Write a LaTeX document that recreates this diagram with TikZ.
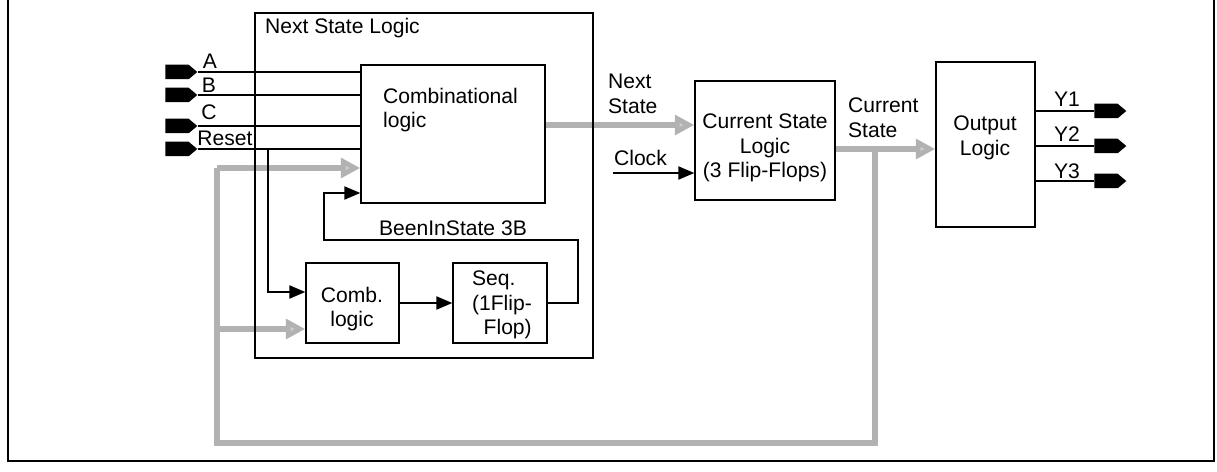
\documentclass[tikz,border=0pt]{standalone}
\usepackage{fontspec}
\setmainfont{Liberation Sans}
\usetikzlibrary{arrows.meta, shapes.symbols, backgrounds}
\tikzset{
  blk/.style={draw, line width=0.9pt, inner sep=0pt},
  wire/.style={line width=0.8pt},
  arr/.style={wire, -{Triangle[length=9pt,width=7.5pt]}},
  gwire/.style={draw=black!30, line width=3pt},
  garr/.style={gwire, -{Triangle[length=11pt,width=11pt,fill=black!20]}},
  pad/.style={signal, signal to=east, signal pointer angle=80, fill=black, minimum width=0.64cm, minimum height=0.29cm, inner sep=0pt},
  lbl/.style={inner sep=1pt, font=\fontsize{12}{14}\selectfont}
}

\begin{document}
\begin{tikzpicture}[x=0.02cm, y=-0.02cm]
\useasboundingbox (0,0) rectangle (1217,472);
% outer frame
\draw[line width=1pt] (8,0) -- (8,461) -- (1214,461) -- (1214,0);

% blocks
\node[blk, minimum width=6.76cm, minimum height=6.9cm] (nsl) at (424,185.5) {};
\node[blk, minimum width=3.68cm, minimum height=2.76cm] (comb) at (453,134) {};
\node[blk, minimum width=1.86cm, minimum height=1.6cm] (cmb) at (352.5,303) {};
\node[blk, minimum width=1.88cm, minimum height=1.6cm] (seq) at (500,303) {};
\node[blk, minimum width=2.8cm, minimum height=2.38cm] (csl) at (765,140.5) {};
\node[blk, minimum width=1.98cm, minimum height=3.3cm] (outl) at (985.5,144.5) {};

% texts
\node[lbl, anchor=west] (tNSL) at (263,28) {Next State Logic};
\node[lbl, anchor=west, align=left] (tComb) at (381,110) {Combinational\\logic};
\node[lbl, align=center] (tCmb) at (352,309) {Comb.\\logic};
\node[lbl, anchor=west, align=left] (tSeq) at (470,305) {Seq.\\(1Flip-\\\hspace{0.55em}Flop)};
\node[lbl] (tBeen) at (453,228) {BeenInState 3B};
\node[lbl, anchor=west, align=left] (tNext) at (606,94) {Next\\State};
\node[lbl, anchor=west] (tClk) at (612,158) {Clock};
\node[lbl, align=center] (tCsl) at (765,148) {Current State\\Logic\\(3 Flip-Flops)};
\node[lbl, anchor=west, align=left] (tCur) at (846,118) {Current\\State};
\node[lbl, align=center] (tOut) at (985,138) {Output\\Logic};
\node[lbl] (tA) at (210,61) {A};
\node[lbl] (tB) at (209,85) {B};
\node[lbl] (tC) at (209,112) {C};
\node[lbl] (tR) at (225,138) {Reset};
\node[lbl] (tY1) at (1067,99) {Y1};
\node[lbl] (tY2) at (1067,134) {Y2};
\node[lbl] (tY3) at (1067,171) {Y3};

% pads
\node[pad] (pA) at (177,72) {};
\node[pad] (pB) at (177,95) {};
\node[pad] (pC) at (177,126) {};
\node[pad] (pR) at (177,149) {};
\node[pad] (oY1) at (1106,111) {};
\node[pad] (oY2) at (1106,146) {};
\node[pad] (oY3) at (1106,181) {};

% helper points
\coordinate (jR) at (268,149);
\coordinate (yR) at (0,292);
\coordinate (yL) at (0,193);
\coordinate (lp1) at (578,240);
\coordinate (lp2) at (324,240);
\coordinate (clk) at (613,173);
\coordinate (nsY) at (0,125);
\coordinate (gTL) at (217,168);
\coordinate (gM) at (217,329);
\coordinate (gBL) at (217,443);
\coordinate (gBR) at (875,443);
\coordinate (gTR) at (875,149);

% gray buses
\begin{pgfonlayer}{background}
\draw[gwire] (gTR) -- (gBR) -- (gBL) -- (gTL);
\draw[garr] (gTL) -- (gTL -| comb.west);
\draw[garr] (gM) -- (gM -| cmb.west);
\draw[garr] (comb.east |- nsY) -- (csl.west |- nsY);
\draw[garr] (csl.east |- gTR) -- (outl.west |- gTR);
\end{pgfonlayer}

% inputs
\draw[wire] (pA.east) -- (pA.east -| comb.west);
\draw[wire] (pB.east) -- (pB.east -| comb.west);
\draw[wire] (pC.east) -- (pC.east -| comb.west);
\draw[wire] (pR.east) -- (pR.east -| comb.west);
\draw[arr] (jR) |- (cmb.west |- yR);
\draw[arr] (cmb.east) -- (seq.west);
\draw[arr] (seq.east) -| (lp1) -- (lp2) |- (comb.west |- yL);
\draw[arr] (clk) -- (clk -| csl.west);

% outputs
\draw[wire] (oY1.west -| outl.east) -- (oY1.west);
\draw[wire] (oY2.west -| outl.east) -- (oY2.west);
\draw[wire] (oY3.west -| outl.east) -- (oY3.west);
\end{tikzpicture}
\end{document}
